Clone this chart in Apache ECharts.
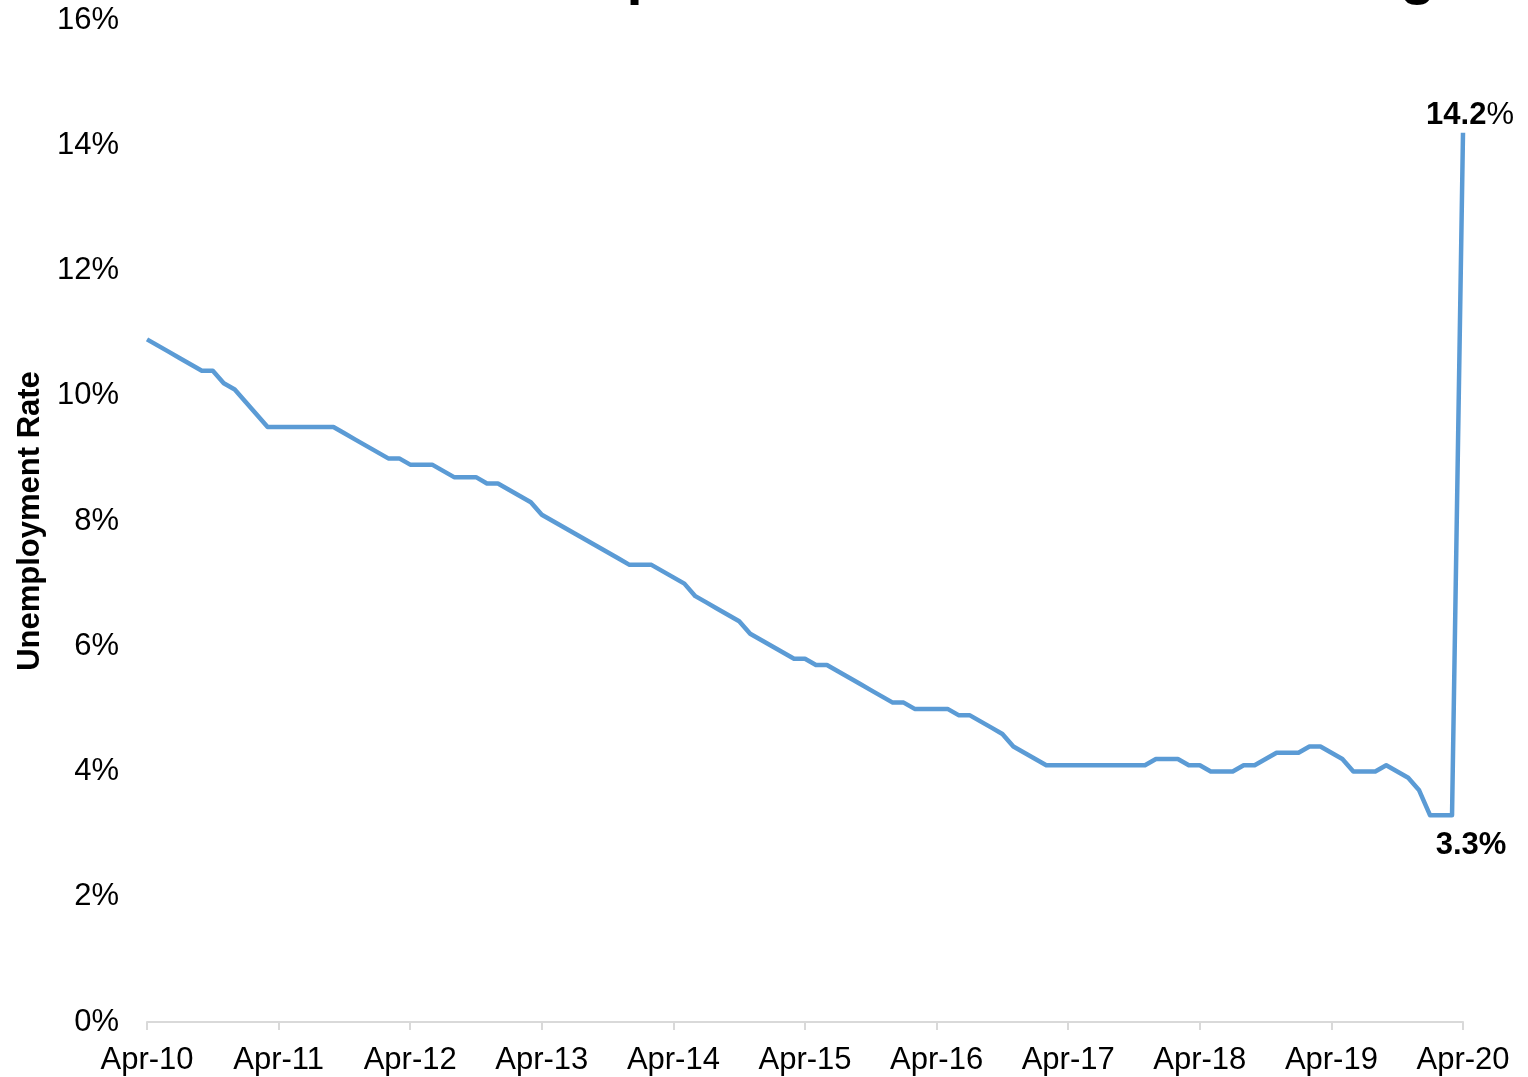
<!DOCTYPE html>
<html>
<head>
<meta charset="utf-8">
<script src="https://cdn.jsdelivr.net/npm/echarts@6/dist/echarts.min.js"></script>
<style>
html,body{margin:0;padding:0;background:#fff;}
#chart{width:1528px;height:1077px;}
</style>
</head>
<body>
<div id="chart"></div>
<script>
// Monthly unemployment rate (%), Apr-2010 .. Apr-2020
const startYear = 2010;
const startMonthIndex = 3; // April
const monthNames = ['Jan','Feb','Mar','Apr','May','Jun','Jul','Aug','Sep','Oct','Nov','Dec'];

const rates2010 = [10.9, 10.8, 10.7, 10.6, 10.5, 10.4, 10.4, 10.2, 10.1];             // Apr-10..Dec-10
const rates2011 = [9.9, 9.7, 9.5, 9.5, 9.5, 9.5, 9.5, 9.5, 9.5, 9.4, 9.3, 9.2];        // 2011
const rates2012 = [9.1, 9.0, 9.0, 8.9, 8.9, 8.9, 8.8, 8.7, 8.7, 8.7, 8.6, 8.6];        // 2012
const rates2013 = [8.5, 8.4, 8.3, 8.1, 8.0, 7.9, 7.8, 7.7, 7.6, 7.5, 7.4, 7.3];        // 2013
const rates2014 = [7.3, 7.3, 7.2, 7.1, 7.0, 6.8, 6.7, 6.6, 6.5, 6.4, 6.2, 6.1];        // 2014
const rates2015 = [6.0, 5.9, 5.8, 5.8, 5.7, 5.7, 5.6, 5.5, 5.4, 5.3, 5.2, 5.1];        // 2015
const rates2016 = [5.1, 5.0, 5.0, 5.0, 5.0, 4.9, 4.9, 4.8, 4.7, 4.6, 4.4, 4.3];        // 2016
const rates2017 = [4.2, 4.1, 4.1, 4.1, 4.1, 4.1, 4.1, 4.1, 4.1, 4.1, 4.1, 4.2];        // 2017
const rates2018 = [4.2, 4.2, 4.1, 4.1, 4.0, 4.0, 4.0, 4.1, 4.1, 4.2, 4.3, 4.3];        // 2018
const rates2019 = [4.3, 4.4, 4.4, 4.3, 4.2, 4.0, 4.0, 4.0, 4.1, 4.0, 3.9, 3.7];        // 2019
const rates2020 = [3.3, 3.3, 3.3, 14.2];                                               // Jan-20..Apr-20

const rates = [].concat(rates2010, rates2011, rates2012, rates2013, rates2014,
                        rates2015, rates2016, rates2017, rates2018, rates2019, rates2020);

const categories = rates.map((_, i) => {
  const m = startMonthIndex + i;
  const y = startYear + Math.floor(m / 12);
  return monthNames[m % 12] + '-' + String(y).slice(2);
});

const yTicks = [0, 2, 4, 6, 8, 10, 12, 14, 16];
const titleText = 'The Jump in Jobless Rate Is Alarming';
const axisTitle = 'Unemployment Rate';

const FONT = '"Liberation Sans", Arial, sans-serif';
const lowIdx = rates.length - 2;
const highIdx = rates.length - 1;

const seriesData = rates.map((v, i) => {
  if (i === highIdx) {
    return { value: v, label: { show: true, position: 'top',
      formatter: p => '{b|' + p.value + '}{r|%}',
      rich: { b: { fontSize: 31, fontWeight: 'bold', color: '#000', fontFamily: FONT },
              r: { fontSize: 31, fontWeight: 'normal', color: '#000', fontFamily: FONT } } } };
  }
  if (i === lowIdx) {
    return { value: v, label: { show: true, position: 'bottom',
      formatter: p => p.value + '%', fontSize: 31, fontWeight: 'bold', color: '#000', fontFamily: FONT } };
  }
  return v;
});

const chart = echarts.init(document.getElementById('chart'), null, { renderer: 'canvas' });
chart.setOption({
  animation: false,
  backgroundColor: '#fff',
  graphic: [{
    type: 'text', left: 388, top: -52, silent: true,
    style: { text: titleText, font: 'bold 58px ' + FONT, fill: '#000' }
  }],
  grid: { left: 147, right: 65, top: 20, bottom: 55, containLabel: false, outerBoundsMode: 'none' },
  xAxis: {
    type: 'category',
    data: categories,
    boundaryGap: false,
    axisLine: { show: true, lineStyle: { color: '#d9d9d9', width: 2 } },
    axisTick: { show: true, interval: 11, length: 8, lineStyle: { color: '#d9d9d9', width: 2 } },
    axisLabel: { interval: 11, margin: 23, fontSize: 31, color: '#000', fontFamily: FONT, showMaxLabel: true },
    splitLine: { show: false }
  },
  yAxis: {
    type: 'value',
    min: yTicks[0], max: yTicks[yTicks.length - 1], interval: 2,
    name: axisTitle,
    nameLocation: 'middle',
    nameRotate: 90,
    nameGap: 95,
    nameTextStyle: { fontSize: 31, fontWeight: 'bold', color: '#000', fontFamily: FONT },
    axisLine: { show: false },
    axisTick: { show: false },
    splitLine: { show: false },
    axisLabel: { formatter: '{value}%', margin: 28, fontSize: 31, color: '#000', fontFamily: FONT }
  },
  series: [{
    type: 'line',
    data: seriesData,
    symbol: 'circle',
    symbolSize: 0.001,
    showSymbol: true,
    showAllSymbol: true,
    lineStyle: { color: '#5B9BD5', width: 4.5, join: 'round' },
    itemStyle: { color: '#5B9BD5' },
    labelLayout: function (params) {
      if (params.dataIndex === highIdx) return { dx: 7, dy: 3 };
      if (params.dataIndex === lowIdx) return { dx: 19, dy: 10 };
      return {};
    }
  }]
});
</script>
</body>
</html>
